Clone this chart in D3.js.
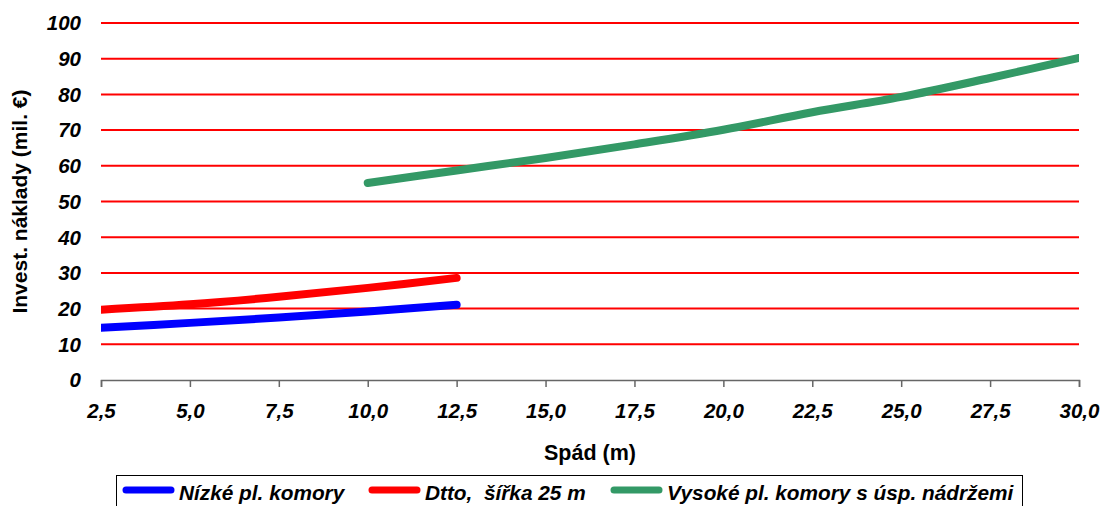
<!DOCTYPE html>
<html>
<head>
<meta charset="utf-8">
<script src="https://cdn.jsdelivr.net/npm/d3@7"></script>
<style>
  body { margin: 0; background: #fff; }
  svg text { font-family: "Liberation Sans", Arial, sans-serif; }
</style>
</head>
<body>
<div id="vis"></div>
<script>
// values
var xTicks = [2.5, 5, 7.5, 10, 12.5, 15, 17.5, 20, 22.5, 25, 27.5, 30];
var yTicks = [0, 10, 20, 30, 40, 50, 60, 70, 80, 90, 100];

var nizkeX = [2.5, 5, 7.5, 10, 12.5];
var nizkeY = [14.6, 16.0, 17.5, 19.2, 21.1];

var dttoX = [2.5, 5, 7.5, 10, 12.5];
var dttoY = [19.7, 21.2, 23.3, 25.8, 28.6];

var vysokeX = [10, 12.5, 15, 17.5, 20, 22.5, 25, 27.5, 30];
var vysokeY = [55.2, 58.7, 62.2, 66.0, 70.1, 75.0, 79.3, 84.6, 90.2];

var seriesNames = ['Nízké pl. komory', 'Dtto,  šířka 25 m', 'Vysoké pl. komory s úsp. nádržemi'];
var seriesColors = ['#0000ff', '#ff0000', '#339966'];

var width = 1102;
var height = 506;
var margin = { top: 23, right: 23, bottom: 126, left: 101 };

var svg = d3.select('#vis').append('svg')
  .attr('width', width)
  .attr('height', height);

var x = d3.scaleLinear()
  .domain([2.5, 30])
  .range([margin.left, width - margin.right]);

var y = d3.scaleLinear()
  .domain([0, 100])
  .range([height - margin.bottom, margin.top]);

var czFormat = d3.formatLocale({ decimal: ',', thousands: ' ', grouping: [3], currency: ['', ' €'] }).format('.1f');

// red gridlines
svg.append('g')
  .selectAll('line')
  .data(yTicks.filter(function (d) { return d > 0; }))
  .enter().append('line')
  .attr('x1', x(2.5))
  .attr('x2', x(30))
  .attr('y1', function (d) { return y(d); })
  .attr('y2', function (d) { return y(d); })
  .attr('stroke', '#ff0000')
  .attr('stroke-width', 2);

// y labels
svg.append('g')
  .selectAll('text')
  .data(yTicks)
  .enter().append('text')
  .attr('x', 81)
  .attr('y', function (d) { return y(d); })
  .attr('dy', '0.36em')
  .attr('text-anchor', 'end')
  .attr('font-size', 20.5)
  .attr('font-weight', 'bold')
  .attr('font-style', 'italic')
  .text(function (d) { return d; });

// x axis
var xAxis = d3.axisBottom(x)
  .tickValues(xTicks)
  .tickSize(7)
  .tickPadding(16)
  .tickFormat(czFormat);

var gx = svg.append('g')
  .attr('transform', 'translate(0,' + y(0) + ')')
  .call(xAxis);
gx.select('.domain').attr('stroke', '#666').attr('stroke-width', 1.5);
gx.selectAll('.tick line').attr('stroke', '#666').attr('stroke-width', 1.5);
gx.selectAll('.tick text')
  .attr('font-size', 20.5)
  .attr('font-weight', 'bold')
  .attr('font-style', 'italic')
  .attr('fill', '#000')
  .attr('font-family', '"Liberation Sans", Arial, sans-serif');

// axis titles
svg.append('text')
  .attr('x', (x(2.5) + x(30)) / 2)
  .attr('y', 460)
  .attr('text-anchor', 'middle')
  .attr('font-size', 21.5)
  .attr('font-weight', 'bold')
  .text('Spád (m)');

svg.append('text')
  .attr('transform', 'translate(27,' + (y(0) + y(100)) / 2 + ') rotate(-90)')
  .attr('text-anchor', 'middle')
  .attr('font-size', 21)
  .attr('font-weight', 'bold')
  .text('Invest. náklady (mil. €)');

// lines, clipped to plot area
svg.append('clipPath').attr('id', 'plotclip')
  .append('rect')
  .attr('x', x(2.5))
  .attr('y', 0)
  .attr('width', x(30) - x(2.5))
  .attr('height', y(0));

var line = d3.line()
  .x(function (d) { return x(d[0]); })
  .y(function (d) { return y(d[1]); })
  .curve(d3.curveCatmullRom.alpha(0.5));

var series = [
  d3.zip(nizkeX, nizkeY),
  d3.zip(dttoX, dttoY),
  d3.zip(vysokeX, vysokeY)
];

svg.append('g')
  .attr('clip-path', 'url(#plotclip)')
  .selectAll('path')
  .data(series)
  .enter().append('path')
  .attr('d', line)
  .attr('fill', 'none')
  .attr('stroke', function (d, i) { return seriesColors[i]; })
  .attr('stroke-width', 8)
  .attr('stroke-linecap', 'round')
  .attr('stroke-linejoin', 'round');

// legend
var legend = svg.append('g');
legend.append('rect')
  .attr('x', 116.5)
  .attr('y', 475.5)
  .attr('width', 906)
  .attr('height', 40)
  .attr('fill', '#fff')
  .attr('stroke', '#000')
  .attr('stroke-width', 1);

var legendLineX = [126, 372, 614];
var legendItems = legend.selectAll('g.item')
  .data(seriesNames)
  .enter().append('g')
  .attr('class', 'item')
  .attr('transform', function (d, i) { return 'translate(' + legendLineX[i] + ',490)'; });

legendItems.append('line')
  .attr('x1', 0)
  .attr('x2', 45)
  .attr('stroke', function (d, i) { return seriesColors[i]; })
  .attr('stroke-width', 7)
  .attr('stroke-linecap', 'round');

legendItems.append('text')
  .attr('x', 53)
  .attr('y', 2)
  .attr('dy', '0.36em')
  .attr('font-size', 20.8)
  .attr('font-weight', 'bold')
  .attr('font-style', 'italic')
  .attr('xml:space', 'preserve')
  .style('white-space', 'pre')
  .text(function (d) { return d; });
</script>
</body>
</html>
